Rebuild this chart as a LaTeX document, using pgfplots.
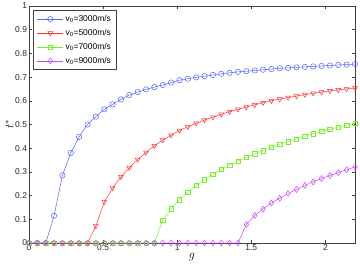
\documentclass[border=0pt]{standalone}
\usepackage{pgfplots}
\pgfplotsset{compat=1.18}
\usepackage{pgfplotstable}
\usepackage{fontspec}
\setmainfont{Liberation Sans}
\definecolor{cA}{RGB}{80,100,255}
\definecolor{cB}{RGB}{255,50,50}
\definecolor{cC}{RGB}{120,240,40}
\definecolor{cD}{RGB}{200,70,255}
\pgfplotstableread{
x a b c d
0 0 0 0 0
0.0564 0 0 0 0
0.1128 0 0 0 0
0.1692 0.115 0 0 0
0.2256 0.285 0 0 0
0.2821 0.380 0 0 0
0.3385 0.448 0 0 0
0.3949 0.500 0 0 0
0.4513 0.533 0.072 0 0
0.5077 0.564 0.173 0 0
0.5641 0.585 0.232 0 0
0.6205 0.606 0.279 0 0
0.6769 0.624 0.318 0 0
0.7333 0.637 0.352 0 0
0.7897 0.648 0.382 0 0
0.8462 0.658 0.410 0 0
0.9026 0.667 0.434 0.096 0
0.9590 0.677 0.455 0.145 0
1.0154 0.687 0.475 0.183 0
1.0718 0.693 0.490 0.214 0
1.1282 0.699 0.505 0.243 0
1.1846 0.704 0.519 0.267 0
1.2410 0.709 0.531 0.289 0
1.2974 0.714 0.543 0.310 0
1.3538 0.718 0.554 0.328 0
1.4103 0.722 0.564 0.345 0
1.4667 0.725 0.574 0.361 0.078
1.5231 0.728 0.583 0.376 0.116
1.5795 0.731 0.592 0.390 0.143
1.6359 0.734 0.600 0.403 0.169
1.6923 0.737 0.607 0.416 0.189
1.7487 0.739 0.614 0.428 0.209
1.8051 0.741 0.620 0.439 0.226
1.8615 0.743 0.626 0.450 0.243
1.9179 0.745 0.632 0.461 0.258
1.9744 0.747 0.637 0.471 0.272
2.0308 0.749 0.642 0.480 0.285
2.0872 0.751 0.646 0.489 0.297
2.1436 0.753 0.650 0.497 0.309
2.2 0.755 0.654 0.505 0.321
}\datatable
\begin{document}
\begin{tikzpicture}
\useasboundingbox (-29bp,-28bp) rectangle (331bp,243bp);
\begin{axis}[
  at={(0,0)}, anchor=south west,
  scale only axis, width=326bp, height=237bp,
  xmin=0, xmax=2.2, ymin=0, ymax=1,
  xtick={0,0.5,1,1.5,2},
  xticklabels={0,0.5,1,1.5,2},
  ytick={0,0.1,...,1},
  yticklabels={0,0.1,0.2,0.3,0.4,0.5,0.6,0.7,0.8,0.9,1},
  tick align=inside,
  major tick length=3bp,
  axis line style={draw=black!75, line width=0.5pt},
  every tick/.style={black!75, line width=0.4pt},
  tick label style={font=\fontsize{8.5}{10}\selectfont, text=black!85},
  xticklabel style={yshift=1.5bp},
  yticklabel style={xshift=1.5bp},
  xlabel={$g$}, ylabel={$t^{*}$},
  xlabel style={font=\fontsize{12}{14}\selectfont, yshift=5bp},
  ylabel style={font=\fontsize{12}{14}\selectfont, yshift=-5bp},
  every axis plot/.append style={line width=0.5pt},
  legend cell align=left,
  legend style={at={(axis description cs:0.013,0.983)}, anchor=north west,
    draw=black!75, line width=0.6pt, fill=white,
    font=\fontsize{8.5}{10}\selectfont, row sep=2.3bp, inner xsep=3.5bp, inner ysep=3bp},
  legend image code/.code={\draw[mark repeat=2,mark phase=2] plot coordinates {(0bp,0bp)(13bp,0bp)(26bp,0bp)};},
]
\addplot[cA, mark=o, mark size=2.7bp] table[x=x,y=a] {\datatable};
\addlegendentry{v\textsubscript{0}=3000m/s}
\addplot[cB, mark=triangle, mark size=2.8bp, mark options={rotate=180}] table[x=x,y=b] {\datatable};
\addlegendentry{v\textsubscript{0}=5000m/s}
\addplot[cC, mark=square, mark size=2.2bp] table[x=x,y=c] {\datatable};
\addlegendentry{v\textsubscript{0}=7000m/s}
\addplot[cD, mark=diamond, mark size=3bp] table[x=x,y=d] {\datatable};
\addlegendentry{v\textsubscript{0}=9000m/s}
\end{axis}
\end{tikzpicture}
\end{document}
